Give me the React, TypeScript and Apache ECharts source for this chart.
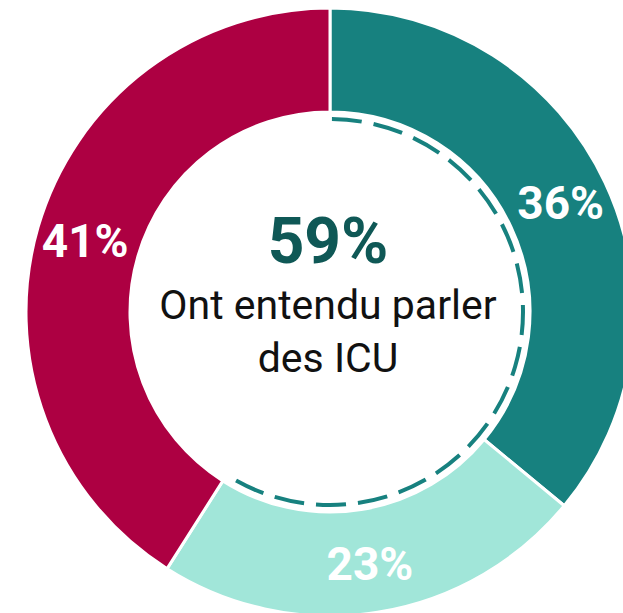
import React, { useEffect, useRef } from "react";
import * as echarts from "echarts";

const categories = ["Oui, connaissent bien", "Oui, vaguement", "Non"];
const values = [36, 23, 41];
const colors = ["#17817F", "#A1E6D9", "#AD0042"];
const heardTotal = values[0] + values[1];
const centerLines = ["Ont entendu parler", "des ICU"];

const CX = 330;
const CY = 312;

export default function App() {
  const ref = useRef<HTMLDivElement>(null);
  useEffect(() => {
    if (!ref.current) return;
    const chart = echarts.init(ref.current, undefined, { renderer: "svg" });
    const total = values.reduce((a, b) => a + b, 0);
    const endAngle = -Math.PI / 2 + (2 * Math.PI * heardTotal) / total;
    chart.setOption({
      animation: false,
      backgroundColor: "#ffffff",
      series: [
        {
          type: "pie",
          center: [CX, CY],
          radius: [200, 304],
          startAngle: 90,
          clockwise: true,
          avoidLabelOverlap: false,
          silent: true,
          itemStyle: { borderColor: "#ffffff", borderWidth: 3 },
          label: {
            show: true,
            position: "inside",
            formatter: "{c}%",
            color: "#ffffff",
            fontFamily: "Roboto",
            fontWeight: "bold",
            fontSize: 46,
          },
          labelLine: { show: false },
          data: categories.map((name, i) => ({
            name,
            value: values[i],
            itemStyle: { color: colors[i] },
          })),
        },
      ],
      graphic: [
        {
          type: "arc",
          silent: true,
          shape: {
            cx: CX,
            cy: CY,
            r: 193,
            startAngle: -Math.PI / 2 + 0.01,
            endAngle: endAngle,
            clockwise: true,
          },
          style: {
            stroke: colors[0],
            lineWidth: 4,
            fill: "none",
            lineDash: [30, 12],
          },
        },
        {
          type: "text",
          x: 328,
          y: 241,
          style: {
            text: heardTotal + "%",
            fill: "#0F5856",
            font: "bold 64px Roboto",
            align: "center",
            verticalAlign: "middle",
          },
        },
        {
          type: "text",
          x: 328,
          y: 305,
          style: {
            text: centerLines[0],
            fill: "#111111",
            font: "41px Roboto",
            align: "center",
            verticalAlign: "middle",
          },
        },
        {
          type: "text",
          x: 328,
          y: 358,
          style: {
            text: centerLines[1],
            fill: "#111111",
            font: "41px Roboto",
            align: "center",
            verticalAlign: "middle",
          },
        },
      ],
    });
    return () => chart.dispose();
  }, []);
  return (
    <div
      ref={ref}
      style={{ position: "fixed", left: 0, top: 0, width: 623, height: 613 }}
    />
  );
}
